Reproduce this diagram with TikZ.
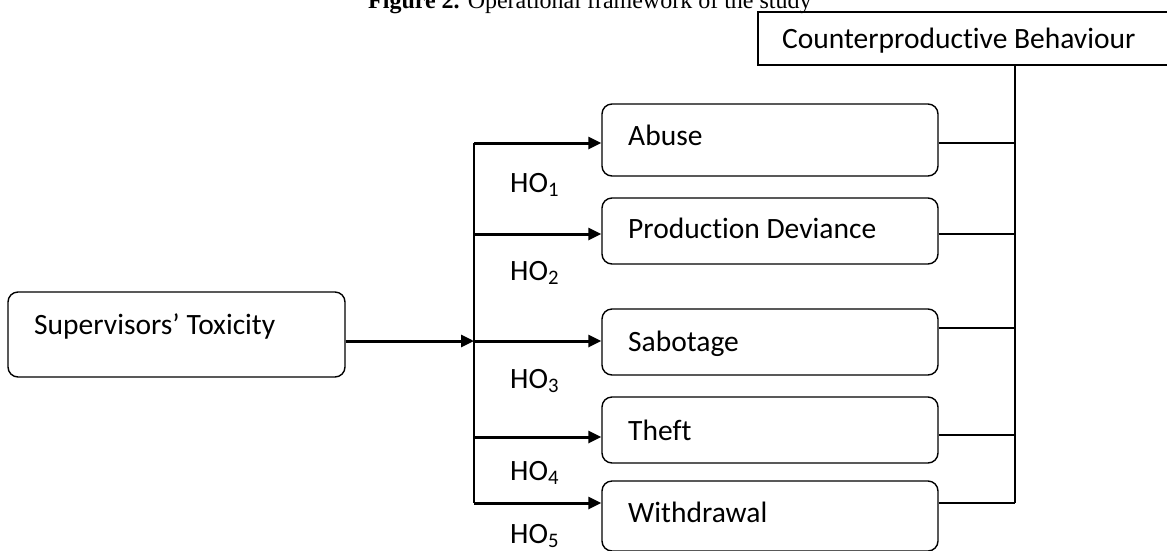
\documentclass[tikz,border=0pt]{standalone}
\usepackage{fontspec}
\setmainfont{Carlito}[Ligatures={NoCommon,NoContextual},Contextuals=NoAlternate]
\newfontfamily\timesfont{Liberation Serif}
\usetikzlibrary{arrows.meta}
\begin{document}
\begin{tikzpicture}[x=1pt,y=-1pt,
  rbox/.style={draw, line width=1.4pt, rounded corners=10pt, minimum width=336pt, inner sep=0pt},
  sbox/.style={draw, line width=1.4pt, inner sep=0pt},
  lbl/.style={anchor=base west, inner sep=0pt, font=\fontsize{29.5}{32}\selectfont},
  thick arrow/.style={line width=3pt, -{Triangle[length=13pt,width=12pt]}},
  thin line/.style={line width=1.4pt}]
\useasboundingbox (0,0) rectangle (1167,550);
% title
\node[anchor=base west, inner sep=0pt, font=\timesfont\fontsize{24}{28}\selectfont] (title) at (368,8) {\textbf{Figure 2.} Operational framework of the study};
% boxes
\node[sbox, minimum width=430pt, minimum height=53pt] (cb) at (973,38.5) {};
\node[rbox, minimum height=72pt] (abuse) at (770,140) {};
\node[rbox, minimum height=66pt] (prod) at (770,231) {};
\node[rbox, minimum height=66pt] (sab) at (770,342) {};
\node[rbox, minimum height=66pt] (theft) at (770,430) {};
\node[rbox, minimum height=70pt] (withd) at (770,516) {};
\node[rbox, minimum width=337pt, minimum height=85pt] (sup) at (176.5,334.5) {};
% texts
\node[lbl] (tcb) at (782,48) {Counterproductive Behaviour};
\node[lbl] (tab) at (628,145) {Abuse};
\node[lbl] (tpd) at (628,238) {Production Deviance};
\node[lbl] (tsa) at (628,351) {Sabotage};
\node[lbl] (tth) at (628,440) {Theft};
\node[lbl] (twi) at (628,522) {Withdrawal};
\node[lbl] (tsu) at (34,334) {Supervisors’ Toxicity};
\node[lbl] (h1) at (510,192) {HO\textsubscript{1}};
\node[lbl] (h2) at (510,280) {HO\textsubscript{2}};
\node[lbl] (h3) at (510,388) {HO\textsubscript{3}};
\node[lbl] (h4) at (510,480) {HO\textsubscript{4}};
\node[lbl] (h5) at (510,543) {HO\textsubscript{5}};
% junction coordinates
\coordinate (j1) at (474,143);
\coordinate (j2) at (474,234);
\coordinate (j3) at (474,341);
\coordinate (j4) at (474,437);
\coordinate (j5) at (474,503);
\coordinate (r1) at (1015,143);
\coordinate (r2) at (1015,234);
\coordinate (r3) at (1015,328);
\coordinate (r4) at (1015,435);
\coordinate (r5) at (1015,503);
% left side
\draw[thin line] (j1) -- (j5);
\draw[thick arrow] (sup.east |- j3) -- (j3);
\draw[thick arrow] (j1) -- (abuse.west |- j1);
\draw[thick arrow] (j2) -- (prod.west |- j2);
\draw[thick arrow] (j3) -- (sab.west |- j3);
\draw[thick arrow] (j4) -- (theft.west |- j4);
\draw[thick arrow] (j5) -- (withd.west |- j5);
% right side
\draw[thin line] (cb.south -| r1) -- (r5);
\draw[thin line] (abuse.east |- r1) -- (r1);
\draw[thin line] (prod.east |- r2) -- (r2);
\draw[thin line] (sab.east |- r3) -- (r3);
\draw[thin line] (theft.east |- r4) -- (r4);
\draw[thin line] (withd.east |- r5) -- (r5);
\end{tikzpicture}
\end{document}
